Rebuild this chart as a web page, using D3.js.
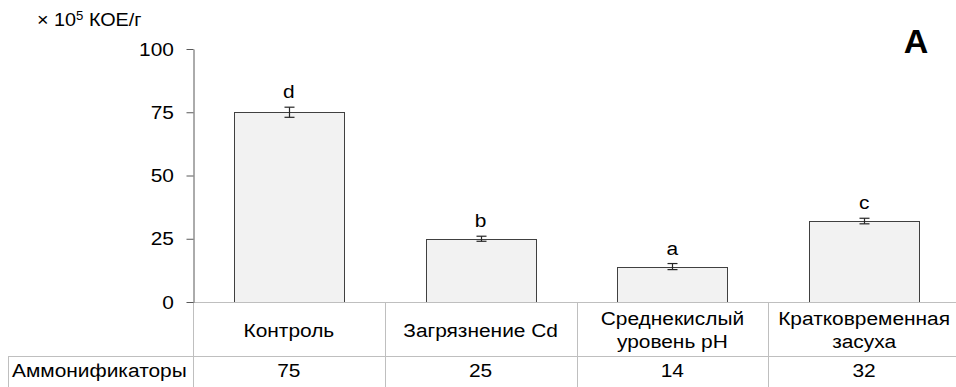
<!DOCTYPE html>
<html>
<head>
<meta charset="utf-8">
<script src="https://cdn.jsdelivr.net/npm/d3@7"></script>
<style>
  html, body { margin: 0; padding: 0; background: #fff; }
  svg { display: block; font-family: "Liberation Sans", Arial, sans-serif; }
</style>
</head>
<body>
<svg id="chart" width="956" height="387"></svg>
<script>
// Treatments (table columns), two-line labels split by "\n"
const categories = ["Контроль", "Загрязнение Cd", "Среднекислый\nуровень pH", "Кратковременная\nзасуха"];
// Ammonifier counts, × 10^5 CFU/g
const values = [75, 25, 14, 32];
// Error bar half-widths
const errors = [2, 1, 1.2, 1.1];
// Significance group letters
const letters = ["d", "b", "a", "c"];
const yTicks = [0, 25, 50, 75, 100];
const seriesName = "Аммонификаторы";

const svg = d3.select("#chart");
const plotLeft = 193, plotRight = 960, plotTop = 49, plotBase = 302;
const rowMid = 356, rowEnd = 400;
const FS = 19;          // body text size
const SX = 1.1;         // horizontal text stretch

const x = d3.scaleBand().domain(categories).range([plotLeft, plotRight]).padding(0);
const y = d3.scaleLinear().domain([0, 100]).range([plotBase, plotTop]);
const barW = x.bandwidth() * 0.573;

// Text placed at (px, py) with a slight horizontal stretch
function label(parent, px, py, size, anchor) {
  return parent.append("text")
    .attr("transform", `translate(${px},${py}) scale(${SX},1)`)
    .attr("text-anchor", anchor || "start")
    .attr("font-size", size).attr("fill", "#000");
}

// Unit label
const unit = label(svg, 37, 26, 18);
unit.append("tspan").text("× 10");
unit.append("tspan").text("5").attr("font-size", 12).attr("dy", -6);
unit.append("tspan").text(" КОЕ/г").attr("dy", 6);

// Panel letter
svg.append("text").attr("x", 916).attr("y", 53).attr("text-anchor", "middle")
  .attr("font-size", 34).attr("font-weight", "bold").attr("fill", "#000").text("A");

// Bars
svg.append("g").selectAll("rect").data(categories).join("rect")
  .attr("x", (d) => Math.round(x(d) + (x.bandwidth() - barW) / 2) + 0.5)
  .attr("y", (d, i) => Math.round(y(values[i])) + 0.5)
  .attr("width", Math.round(barW))
  .attr("height", (d, i) => Math.round(plotBase) - Math.round(y(values[i])))
  .attr("fill", "#f2f2f2").attr("stroke", "#404040").attr("stroke-width", 1);

// Error bars
const eb = svg.append("g").attr("stroke", "#262626").attr("stroke-width", 1.2);
categories.forEach((c, i) => {
  const cx = Math.round(x(c) + x.bandwidth() / 2) + 0.5;
  const y1 = y(values[i] + errors[i]), y2 = y(values[i] - errors[i]);
  eb.append("line").attr("x1", cx).attr("x2", cx).attr("y1", y1).attr("y2", y2);
  eb.append("line").attr("x1", cx - 5).attr("x2", cx + 5).attr("y1", y1).attr("y2", y1);
  eb.append("line").attr("x1", cx - 5).attr("x2", cx + 5).attr("y1", y2).attr("y2", y2);
});

// Group letters above error bars
categories.forEach((c, i) => {
  label(svg, x(c) + x.bandwidth() / 2, y(values[i] + errors[i]) - 9, FS, "middle").text(letters[i]);
});

// Data table grid
const grid = svg.append("g").attr("stroke", "#bfbfbf").attr("stroke-width", 1);
grid.append("line").attr("x1", plotLeft).attr("x2", plotRight).attr("y1", plotBase + 0.5).attr("y2", plotBase + 0.5);
grid.append("line").attr("x1", 8).attr("x2", plotRight).attr("y1", rowMid + 0.5).attr("y2", rowMid + 0.5);
grid.append("line").attr("x1", 8.5).attr("x2", 8.5).attr("y1", rowMid).attr("y2", rowEnd);
x.domain().forEach((c) => {
  const xx = Math.round(x(c)) + 0.5;
  grid.append("line").attr("x1", xx).attr("x2", xx).attr("y1", plotBase).attr("y2", rowEnd);
});

// Y axis
const axis = svg.append("g").attr("transform", `translate(${plotLeft + 0.5},0)`)
  .call(d3.axisLeft(y).tickValues(yTicks).tickSize(7).tickPadding(12).tickSizeOuter(0));
axis.select(".domain").attr("stroke", "#595959");
axis.selectAll(".tick line").attr("stroke", "#595959");
axis.selectAll(".tick text")
  .attr("x", 0)
  .attr("transform", `translate(-19.5,0) scale(${SX},1)`)
  .attr("font-size", FS).attr("fill", "#000")
  .attr("font-family", "Liberation Sans, Arial, sans-serif");

// Category labels in table header row
categories.forEach((c) => {
  const lines = c.split("\n");
  const cx = x(c) + x.bandwidth() / 2;
  const firstY = lines.length === 1 ? 337 : 325;
  lines.forEach((ln, k) => {
    label(svg, cx, firstY + k * 23, FS, "middle").text(ln);
  });
});

// Values row
label(svg, 12, 377, FS).text(seriesName);
categories.forEach((c, i) => {
  label(svg, x(c) + x.bandwidth() / 2, 377, FS, "middle").text(values[i]);
});
</script>
</body>
</html>
